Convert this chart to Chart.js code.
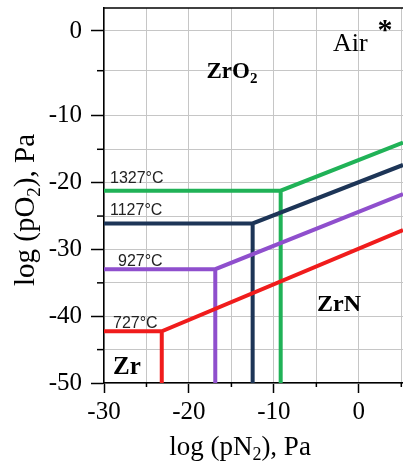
<!DOCTYPE html>
<html>
<head>
<meta charset="utf-8">
<script src="https://cdn.jsdelivr.net/npm/chart.js@4.4.1/dist/chart.umd.min.js"></script>
<style>
  html, body { margin: 0; padding: 0; background: #fff; }
</style>
</head>
<body>
<canvas id="diagram" width="403" height="466"></canvas>
<script>
// phase boundaries, one per temperature (log Pa)
const temps = ['727°C', '927°C', '1127°C', '1327°C'];
const cornerPN2 = [-23.2, -16.9, -12.5, -9.2];    // Zr / ZrN boundary
const cornerPO2 = [-42.25, -32.95, -26.1, -21.2]; // Zr / ZrO2 boundary
const edgePO2 = [-27.1, -21.7, -17.35, -14.0];    // ZrN / ZrO2 line at right edge

const xTicks = [-30, -25, -20, -15, -10, -5, 0, 5];
const yTicks = [-50, -45, -40, -35, -30, -25, -20, -15, -10, -5, 0];
const xMin = -30, xMax = 5.2, yMin = -50;

const colors = ['#f01c1c', '#8f4fcd', '#1d3557', '#20b257'];

// the original figure's y axis is stretched above -10
const yReal = [-50, -10, -5, 0, 3];
const yDraw = [-50, -10, -3.23, 2.72, 6.29];
const yTop = 6.16;

function interp(v, from, to) {
  for (let i = 1; i < from.length; i++) {
    if (v <= from[i] || i === from.length - 1) {
      const t = (v - from[i - 1]) / (from[i] - from[i - 1]);
      return to[i - 1] + t * (to[i] - to[i - 1]);
    }
  }
}

const Base = Chart.LinearScale || Chart.registry.getScale('linear');
class WarpScale extends Base {
  getPixelForValue(v) {
    return v === null ? NaN : super.getPixelForValue(interp(v, yReal, yDraw));
  }
  getValueForPixel(p) {
    return interp(super.getValueForPixel(p), yDraw, yReal);
  }
}
WarpScale.id = 'warped';
WarpScale.defaults = Base.defaults;
Chart.register(WarpScale);

const datasets = temps.map((t, i) => ({
  label: t,
  data: [
    {x: xMin, y: cornerPO2[i]},
    {x: cornerPN2[i], y: cornerPO2[i]},
    {x: xMax, y: edgePO2[i]},
    {x: cornerPN2[i], y: null},
    {x: cornerPN2[i], y: cornerPO2[i]},
    {x: cornerPN2[i], y: yMin}
  ],
  borderColor: colors[i],
  borderWidth: 4,
  borderJoinStyle: 'miter',
  pointRadius: 0,
  tension: 0,
  fill: false
}));

const labelX = [113, 118, 110, 110];
const labelDy = [-3, -3, -8, -8];

// draws [text, isSubscript] pieces centred on cx, returns nothing
function richText(ctx, parts, cx, y, size, bold) {
  const w = bold ? 'bold ' : '';
  const big = w + size + 'px "Liberation Serif"';
  const small = w + Math.round(size * 0.65) + 'px "Liberation Serif"';
  let total = 0;
  parts.forEach(p => { ctx.font = p[1] ? small : big; total += ctx.measureText(p[0]).width; });
  let x = cx - total / 2;
  ctx.textAlign = 'left';
  parts.forEach(p => {
    ctx.font = p[1] ? small : big;
    ctx.fillText(p[0], x, p[1] ? y + size * 0.2 : y);
    x += ctx.measureText(p[0]).width;
  });
}

const annotate = {
  id: 'annotate',
  afterDraw(chart) {
    const {ctx, chartArea: a, scales: {x, y}} = chart;
    ctx.save();
    ctx.strokeStyle = '#000';
    ctx.lineWidth = 1.5;
    ctx.beginPath();
    ctx.moveTo(a.left, a.top);
    ctx.lineTo(a.right, a.top);
    ctx.stroke();

    // minor ticks
    yTicks.filter(v => v % 10 !== 0).forEach(v => {
      const p = y.getPixelForValue(v);
      ctx.beginPath(); ctx.moveTo(a.left - 7, p); ctx.lineTo(a.left, p); ctx.stroke();
    });
    xTicks.filter(v => v % 10 !== 0).forEach(v => {
      const p = x.getPixelForValue(v);
      ctx.beginPath(); ctx.moveTo(p, a.bottom); ctx.lineTo(p, a.bottom + 4); ctx.stroke();
    });

    ctx.fillStyle = '#222';
    ctx.textBaseline = 'alphabetic';
    ctx.textAlign = 'left';
    ctx.font = '16px "Liberation Sans"';
    temps.forEach((t, i) => {
      ctx.fillText(t, labelX[i], y.getPixelForValue(cornerPO2[i]) + labelDy[i]);
    });

    ctx.fillStyle = '#000';
    richText(ctx, [['ZrO', false], ['2', true]], 232, 78, 23, true);
    ctx.textAlign = 'left';
    ctx.font = 'bold 24px "Liberation Serif"';
    ctx.fillText('ZrN', 317, 311);
    ctx.font = 'bold 25px "Liberation Serif"';
    ctx.fillText('Zr', 113, 374);
    ctx.font = '26px "Liberation Serif"';
    ctx.fillText('Air', 333, 51);
    ctx.font = 'bold 30px "Liberation Serif"';
    ctx.textAlign = 'center';
    ctx.fillText('*', 385, 39);

    // axis titles
    richText(ctx, [['log (pN', false], ['2', true], ['), Pa', false]], 240, 455, 27, false);
    ctx.translate(34, 210);
    ctx.rotate(-Math.PI / 2);
    richText(ctx, [['log (pO', false], ['2', true], ['), Pa', false]], 0, 0, 29, false);
    ctx.restore();
  }
};

const tickFont = {family: 'Liberation Serif', size: 25};

new Chart(document.getElementById('diagram'), {
  type: 'line',
  data: {datasets: datasets},
  options: {
    responsive: false,
    animation: false,
    layout: {padding: {top: 8, right: 0, left: 0, bottom: 0}},
    plugins: {legend: {display: false}, tooltip: {enabled: false}},
    scales: {
      x: {
        type: 'linear',
        min: xMin,
        max: xMax,
        afterBuildTicks: s => { s.ticks = xTicks.map(v => ({value: v})); },
        afterFit: s => { s.height = 83; s.paddingLeft = 0; s.paddingRight = 0; },
        ticks: {
          autoSkip: false,
          maxRotation: 0,
          padding: 4,
          color: '#000',
          font: tickFont,
          callback: v => (v % 10 === 0 ? String(v) : '')
        },
        grid: {
          color: '#c6c6c6',
          lineWidth: 1,
          tickLength: 10,
          tickWidth: 1.5,
          tickColor: c => (c.tick && c.tick.value % 10 === 0 ? '#000' : 'rgba(0,0,0,0)')
        },
        border: {display: true, color: '#000', width: 1.5}
      },
      y: {
        type: 'warped',
        min: yMin,
        max: yTop,
        afterBuildTicks: s => { s.ticks = yTicks.map(v => ({value: v})); },
        afterFit: s => { s.width = 104; s.paddingTop = 0; s.paddingBottom = 0; },
        ticks: {
          autoSkip: false,
          padding: 9,
          color: '#000',
          font: tickFont,
          callback: v => (v % 10 === 0 ? String(v) : '')
        },
        grid: {
          color: '#c6c6c6',
          lineWidth: 1,
          tickLength: 13,
          tickWidth: 1.5,
          tickColor: c => (c.tick && c.tick.value % 10 === 0 ? '#000' : 'rgba(0,0,0,0)')
        },
        border: {display: true, color: '#000', width: 1.5}
      }
    }
  },
  plugins: [annotate]
});
</script>
</body>
</html>
